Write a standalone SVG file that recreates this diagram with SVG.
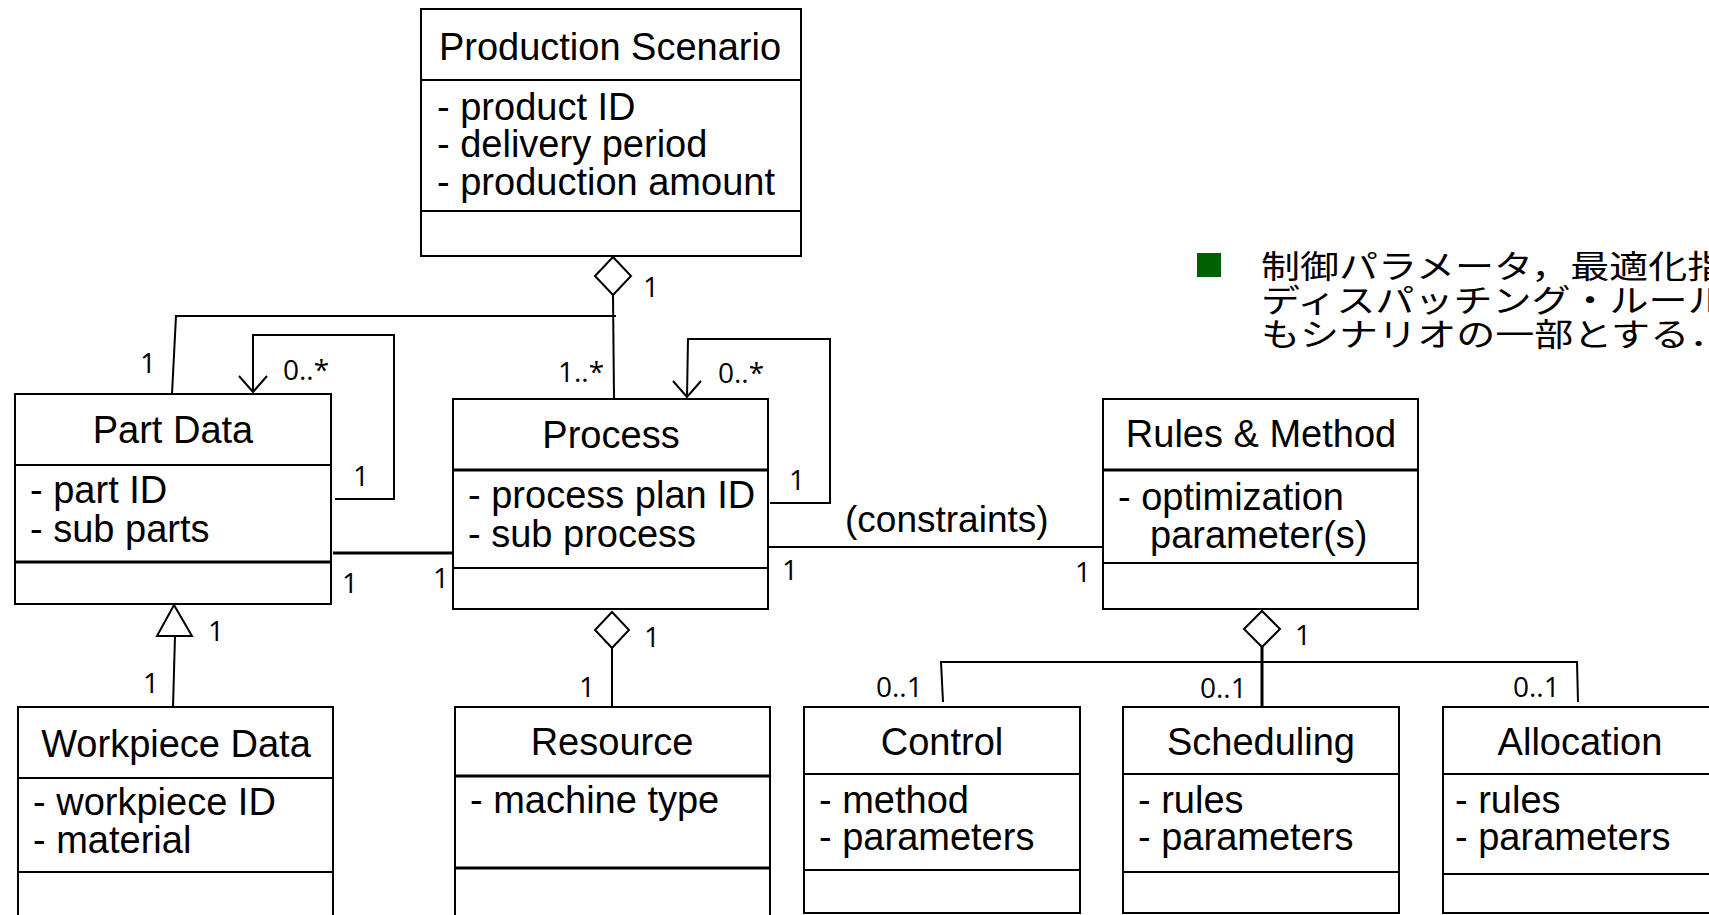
<svg xmlns="http://www.w3.org/2000/svg" width="1709" height="915" viewBox="0 0 1709 915">
<style>
.box{fill:#fff;stroke:#000;stroke-width:2}
.div{stroke:#000;stroke-width:2}
.thk{stroke:#000;stroke-width:3}
.t{font-family:"Liberation Sans",Arial,sans-serif;font-size:38px;fill:#000}
.c{text-anchor:middle}
.m{font-family:"Open Sans","Liberation Sans",sans-serif;font-size:28px;fill:#000}
.ln{fill:none;stroke:#000;stroke-width:2}
.jp{font-family:"Noto Sans CJK JP",sans-serif;font-size:32px;font-weight:normal;fill:#000}
</style>
<rect width="1709" height="915" fill="#fff"/>

<g id="connectors">
  <polyline class="ln" points="613,295 614,399"/>
  <polyline class="ln" points="616,316 176,316 172,394"/>
  <polygon points="613,257 631,276 613,295 595,276" fill="#fff" stroke="#000" stroke-width="2"/>
  <text class="m" x="643" y="297">1</text>
  <text class="m" x="140" y="373">1</text>
  <text class="m" x="558" y="382">1..*</text>
  <polyline class="ln" points="335,499 394,499 394,335 253,335 253,392"/>
  <polyline class="ln" points="239,376 253,392 267,376"/>
  <text class="m" x="283" y="380">0..*</text>
  <text class="m" x="353" y="486">1</text>
  <line class="thk" x1="333" y1="553" x2="455" y2="553"/>
  <text class="m" x="342" y="593">1</text>
  <text class="m" x="433" y="588">1</text>
  <polyline class="ln" points="770,503 830,503 830,339 688,339 687,397"/>
  <polyline class="ln" points="673,381 687,397 701,381"/>
  <text class="m" x="718" y="383">0..*</text>
  <text class="m" x="789" y="490">1</text>
  <line class="ln" x1="769" y1="547" x2="1103" y2="547"/>
  <text class="t" x="845" y="532" style="font-size:37px">(constraints)</text>
  <text class="m" x="782" y="580">1</text>
  <text class="m" x="1075" y="582">1</text>
  <line class="ln" x1="175" y1="636" x2="173" y2="707"/>
  <polygon points="174,605 192,636 157,636" fill="#fff" stroke="#000" stroke-width="2"/>
  <text class="m" x="208" y="641">1</text>
  <text class="m" x="143" y="693">1</text>
  <line class="ln" x1="612" y1="648" x2="612" y2="706"/>
  <polygon points="612,612 629,630 612,648 595,630" fill="#fff" stroke="#000" stroke-width="2"/>
  <text class="m" x="644" y="647">1</text>
  <text class="m" x="579" y="697">1</text>
  <line class="thk" x1="1262" y1="647" x2="1262" y2="706"/>
  <polyline class="ln" points="943,702 941,662 1577,662 1578,702"/>
  <polygon points="1262,611 1280,629 1262,647 1244,629" fill="#fff" stroke="#000" stroke-width="2"/>
  <text class="m" x="1295" y="645">1</text>
  <text class="m" x="876" y="697">0..1</text>
  <text class="m" x="1200" y="698">0..1</text>
  <text class="m" x="1513" y="697">0..1</text>
</g>

<g id="production-scenario">
  <rect class="box" x="421" y="9" width="380" height="247"/>
  <line class="div" x1="421" y1="80" x2="801" y2="80"/>
  <line class="div" x1="421" y1="211" x2="801" y2="211"/>
  <text class="t c" x="610" y="60">Production Scenario</text>
  <text class="t" x="437" y="120">- product ID</text>
  <text class="t" x="437" y="157">- delivery period</text>
  <text class="t" x="437" y="195">- production amount</text>
</g>

<g id="part-data">
  <rect class="box" x="15" y="394" width="316" height="210"/>
  <line class="div" x1="15" y1="465" x2="331" y2="465"/>
  <line class="thk" x1="15" y1="562" x2="331" y2="562"/>
  <text class="t c" x="173" y="443">Part Data</text>
  <text class="t" x="30" y="503">- part ID</text>
  <text class="t" x="30" y="542">- sub parts</text>
</g>

<g id="process">
  <rect class="box" x="453" y="399" width="315" height="210"/>
  <line class="thk" x1="453" y1="470" x2="768" y2="470"/>
  <line class="div" x1="453" y1="568" x2="768" y2="568"/>
  <text class="t c" x="611" y="448">Process</text>
  <text class="t" x="468" y="508">- process plan ID</text>
  <text class="t" x="468" y="547">- sub process</text>
</g>

<g id="rules-method">
  <rect class="box" x="1103" y="399" width="315" height="210"/>
  <line class="thk" x1="1103" y1="470" x2="1418" y2="470"/>
  <line class="div" x1="1103" y1="563" x2="1418" y2="563"/>
  <text class="t c" x="1261" y="447">Rules &amp; Method</text>
  <text class="t" x="1118" y="510">- optimization</text>
  <text class="t" x="1150" y="548">parameter(s)</text>
</g>

<g id="workpiece-data">
  <rect class="box" x="18" y="707" width="315" height="240"/>
  <line class="div" x1="18" y1="778" x2="333" y2="778"/>
  <line class="div" x1="18" y1="872" x2="333" y2="872"/>
  <text class="t c" x="176" y="757">Workpiece Data</text>
  <text class="t" x="33" y="815">- workpiece ID</text>
  <text class="t" x="33" y="853">- material</text>
</g>

<g id="resource">
  <rect class="box" x="455" y="707" width="315" height="240"/>
  <line class="thk" x1="455" y1="776" x2="770" y2="776"/>
  <line class="thk" x1="455" y1="868" x2="770" y2="868"/>
  <text class="t c" x="612" y="755">Resource</text>
  <text class="t" x="470" y="813">- machine type</text>
</g>

<g id="control">
  <rect class="box" x="804" y="707" width="276" height="206"/>
  <line class="div" x1="804" y1="774" x2="1080" y2="774"/>
  <line class="div" x1="804" y1="870" x2="1080" y2="870"/>
  <text class="t c" x="942" y="755">Control</text>
  <text class="t" x="819" y="813">- method</text>
  <text class="t" x="819" y="850">- parameters</text>
</g>

<g id="scheduling">
  <rect class="box" x="1123" y="707" width="276" height="206"/>
  <line class="div" x1="1123" y1="774" x2="1399" y2="774"/>
  <line class="div" x1="1123" y1="872" x2="1399" y2="872"/>
  <text class="t c" x="1261" y="755">Scheduling</text>
  <text class="t" x="1138" y="813">- rules</text>
  <text class="t" x="1138" y="850">- parameters</text>
</g>

<g id="allocation">
  <rect class="box" x="1443" y="707" width="276" height="206"/>
  <line class="div" x1="1443" y1="774" x2="1719" y2="774"/>
  <line class="div" x1="1443" y1="874" x2="1719" y2="874"/>
  <text class="t c" x="1580" y="755">Allocation</text>
  <text class="t" x="1455" y="813">- rules</text>
  <text class="t" x="1455" y="850">- parameters</text>
</g>

<g id="note">
  <rect x="1197" y="253" width="24" height="24" fill="#006000"/>
  <g transform="translate(1261,0) scale(1.22,1)">
    <text class="jp" x="0" y="278">制御パラメータ，最適化指</text>
    <text class="jp" x="0" y="312">ディスパッチング・ルール</text>
    <text class="jp" x="0" y="346">もシナリオの一部とする．</text>
  </g>
</g>
</svg>
